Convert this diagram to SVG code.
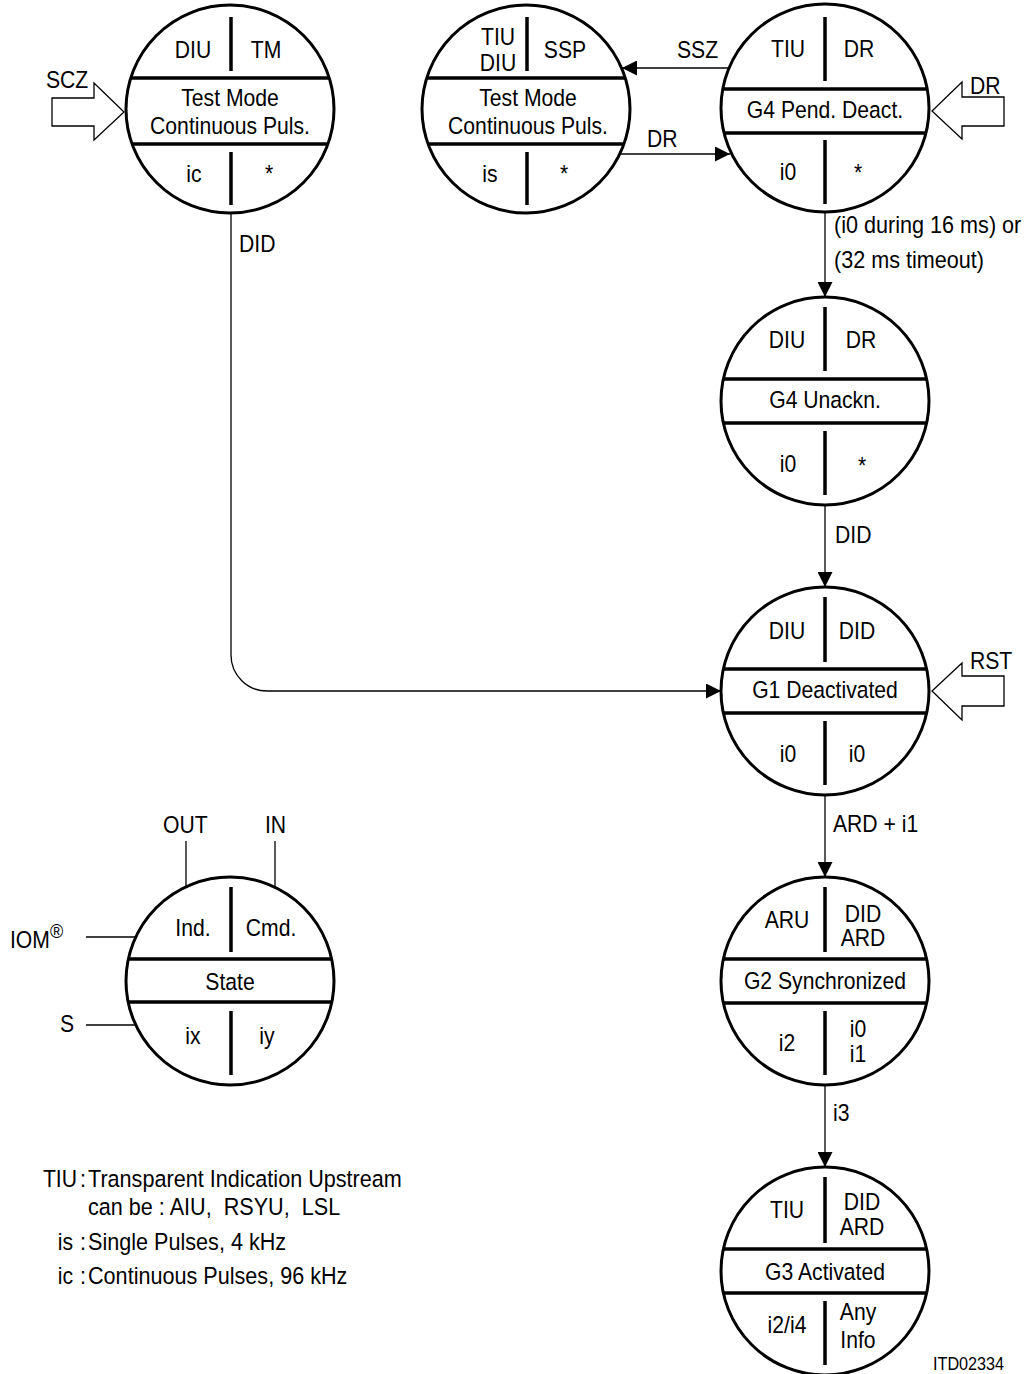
<svg xmlns="http://www.w3.org/2000/svg" width="1028" height="1374" viewBox="0 0 1028 1374">
<style>
.t{font-family:"Liberation Sans",Arial,Helvetica,sans-serif;font-size:23.5px;fill:#000}
.m{text-anchor:middle}
.e{text-anchor:end}
.s{font-size:18px}
.c{fill:#fff;stroke:#000;stroke-width:3}
.b{stroke:#000;stroke-width:3.5;fill:none}
.cn{fill:none;stroke:#000;stroke-width:1.3}
.h{fill:#fff;stroke:#000;stroke-width:1.3;stroke-linejoin:miter}
</style>
<defs>
<marker id="ah" markerWidth="15" markerHeight="15" refX="15" refY="7.5" orient="auto" markerUnits="userSpaceOnUse"><path d="M0,0 L15,7.5 L0,15 z" fill="#000"/></marker>
</defs>
<rect width="1028" height="1374" fill="#fff"/>

<g id="connectors">
<path class="cn" d="M729,68 H622" marker-end="url(#ah)"/>
<path class="cn" d="M620,154 H730" marker-end="url(#ah)"/>
<path class="cn" d="M825,212 V297" marker-end="url(#ah)"/>
<path class="cn" d="M825,505 V587" marker-end="url(#ah)"/>
<path class="cn" d="M825,795 V877" marker-end="url(#ah)"/>
<path class="cn" d="M825,1085 V1167" marker-end="url(#ah)"/>
<path class="cn" d="M231,213 V655 A36,36 0 0 0 267,691 H721" marker-end="url(#ah)"/>
<polygon class="h" points="52,98 94,98 94,83 124,112 94,140 94,126 52,126"/>
<polygon class="h" points="1004,97 962,97 962,82 932,111 962,139 962,126 1004,126"/>
<polygon class="h" points="1004,676 962,676 962,663 932,691 962,720 962,706 1004,706"/>
<text class="t" transform="translate(46,88) scale(0.9,1)">SCZ</text>
<text class="t" transform="translate(677,58) scale(0.9,1)">SSZ</text>
<text class="t" transform="translate(647,147) scale(0.9,1)">DR</text>
<text class="t" transform="translate(970,94) scale(0.9,1)">DR</text>
<text class="t" transform="translate(834,233) scale(0.92,1)">(i0 during 16 ms) or</text>
<text class="t" transform="translate(834,268) scale(0.92,1)">(32 ms timeout)</text>
<text class="t" transform="translate(835,543) scale(0.9,1)">DID</text>
<text class="t" transform="translate(239,252) scale(0.9,1)">DID</text>
<text class="t" transform="translate(970,669) scale(0.9,1)">RST</text>
<text class="t" transform="translate(833,832) scale(0.9,1)">ARD + i1</text>
<text class="t" transform="translate(833,1121) scale(0.9,1)">i3</text>
</g>

<g id="node-testmode-cont">
<circle class="c" cx="230" cy="109" r="104"/>
<line class="b" x1="130.7" y1="78" x2="329.3" y2="78"/>
<line class="b" x1="132.1" y1="144" x2="327.9" y2="144"/>
<line class="b" x1="231" y1="17" x2="231" y2="71"/>
<line class="b" x1="231" y1="152" x2="231" y2="205"/>
<text class="t m" transform="translate(193,58) scale(0.9,1)">DIU</text>
<text class="t m" transform="translate(266,58) scale(0.9,1)">TM</text>
<text class="t m" transform="translate(230,106) scale(0.9,1)">Test Mode</text>
<text class="t m" transform="translate(230,134) scale(0.9,1)">Continuous Puls.</text>
<text class="t m" transform="translate(194,182) scale(0.9,1)">ic</text>
<text class="t m" transform="translate(269,182) scale(0.9,1)">*</text>
</g>

<g id="node-testmode-single">
<circle class="c" cx="526" cy="109" r="104"/>
<line class="b" x1="426.7" y1="78" x2="625.3" y2="78"/>
<line class="b" x1="428.1" y1="144" x2="623.9" y2="144"/>
<line class="b" x1="527" y1="17" x2="527" y2="71"/>
<line class="b" x1="527" y1="152" x2="527" y2="205"/>
<text class="t m" transform="translate(498,45) scale(0.9,1)">TIU</text>
<text class="t m" transform="translate(498,71) scale(0.9,1)">DIU</text>
<text class="t m" transform="translate(565,58) scale(0.9,1)">SSP</text>
<text class="t m" transform="translate(528,106) scale(0.9,1)">Test Mode</text>
<text class="t m" transform="translate(528,134) scale(0.9,1)">Continuous Puls.</text>
<text class="t m" transform="translate(490,182) scale(0.9,1)">is</text>
<text class="t m" transform="translate(564,182) scale(0.9,1)">*</text>
</g>

<g id="node-g4-pend">
<circle class="c" cx="825" cy="108" r="104"/>
<line class="b" x1="722.8" y1="89" x2="927.2" y2="89"/>
<line class="b" x1="724" y1="133" x2="926" y2="133"/>
<line class="b" x1="825" y1="17" x2="825" y2="81"/>
<line class="b" x1="825" y1="140" x2="825" y2="204"/>
<text class="t m" transform="translate(788,57) scale(0.9,1)">TIU</text>
<text class="t m" transform="translate(859,57) scale(0.9,1)">DR</text>
<text class="t m" transform="translate(825,118) scale(0.9,1)">G4 Pend. Deact.</text>
<text class="t m" transform="translate(788,180) scale(0.9,1)">i0</text>
<text class="t m" transform="translate(858,181) scale(0.9,1)">*</text>
</g>

<g id="node-g4-unackn">
<circle class="c" cx="825" cy="401" r="104"/>
<line class="b" x1="723.4" y1="379" x2="926.6" y2="379"/>
<line class="b" x1="723.4" y1="423" x2="926.6" y2="423"/>
<line class="b" x1="825" y1="307" x2="825" y2="371"/>
<line class="b" x1="825" y1="431" x2="825" y2="495"/>
<text class="t m" transform="translate(787,348) scale(0.9,1)">DIU</text>
<text class="t m" transform="translate(861,348) scale(0.9,1)">DR</text>
<text class="t m" transform="translate(825,408) scale(0.9,1)">G4 Unackn.</text>
<text class="t m" transform="translate(788,472) scale(0.9,1)">i0</text>
<text class="t m" transform="translate(862,474) scale(0.9,1)">*</text>
</g>

<g id="node-g1">
<circle class="c" cx="825" cy="691" r="104"/>
<line class="b" x1="723.4" y1="669" x2="926.6" y2="669"/>
<line class="b" x1="723.4" y1="713" x2="926.6" y2="713"/>
<line class="b" x1="825" y1="597" x2="825" y2="662"/>
<line class="b" x1="825" y1="721" x2="825" y2="785"/>
<text class="t m" transform="translate(787,639) scale(0.9,1)">DIU</text>
<text class="t m" transform="translate(857,639) scale(0.9,1)">DID</text>
<text class="t m" transform="translate(825,698) scale(0.9,1)">G1 Deactivated</text>
<text class="t m" transform="translate(788,762) scale(0.9,1)">i0</text>
<text class="t m" transform="translate(857,762) scale(0.9,1)">i0</text>
</g>

<g id="node-g2">
<circle class="c" cx="825" cy="981" r="104"/>
<line class="b" x1="723.4" y1="959" x2="926.6" y2="959"/>
<line class="b" x1="723.4" y1="1003" x2="926.6" y2="1003"/>
<line class="b" x1="825" y1="887" x2="825" y2="952"/>
<line class="b" x1="825" y1="1011" x2="825" y2="1075"/>
<text class="t m" transform="translate(787,928) scale(0.9,1)">ARU</text>
<text class="t m" transform="translate(863,922) scale(0.9,1)">DID</text>
<text class="t m" transform="translate(863,946) scale(0.9,1)">ARD</text>
<text class="t m" transform="translate(825,989) scale(0.9,1)">G2 Synchronized</text>
<text class="t m" transform="translate(787,1051) scale(0.9,1)">i2</text>
<text class="t m" transform="translate(858,1037) scale(0.9,1)">i0</text>
<text class="t m" transform="translate(858,1062) scale(0.9,1)">i1</text>
</g>

<g id="node-g3">
<circle class="c" cx="825" cy="1271" r="104"/>
<line class="b" x1="723.4" y1="1249" x2="926.6" y2="1249"/>
<line class="b" x1="723.4" y1="1293" x2="926.6" y2="1293"/>
<line class="b" x1="825" y1="1177" x2="825" y2="1243"/>
<line class="b" x1="825" y1="1301" x2="825" y2="1365"/>
<text class="t m" transform="translate(787,1218) scale(0.9,1)">TIU</text>
<text class="t m" transform="translate(862,1210) scale(0.9,1)">DID</text>
<text class="t m" transform="translate(862,1235) scale(0.9,1)">ARD</text>
<text class="t m" transform="translate(825,1280) scale(0.9,1)">G3 Activated</text>
<text class="t m" transform="translate(787,1333) scale(0.9,1)">i2/i4</text>
<text class="t m" transform="translate(858,1320) scale(0.9,1)">Any</text>
<text class="t m" transform="translate(858,1348) scale(0.9,1)">Info</text>
</g>

<g id="legend-node">
<line class="cn" x1="186" y1="841" x2="186" y2="887"/>
<line class="cn" x1="275" y1="841" x2="275" y2="887"/>
<line class="cn" x1="86" y1="937" x2="136" y2="937"/>
<line class="cn" x1="86" y1="1025" x2="136" y2="1025"/>
<circle class="c" cx="230" cy="981" r="104"/>
<line class="b" x1="128.4" y1="959" x2="331.6" y2="959"/>
<line class="b" x1="128.1" y1="1002" x2="331.9" y2="1002"/>
<line class="b" x1="231" y1="887" x2="231" y2="952"/>
<line class="b" x1="231" y1="1011" x2="231" y2="1075"/>
<text class="t m" transform="translate(193,936) scale(0.9,1)">Ind.</text>
<text class="t m" transform="translate(271,936) scale(0.9,1)">Cmd.</text>
<text class="t m" transform="translate(230,990) scale(0.9,1)">State</text>
<text class="t m" transform="translate(193,1044) scale(0.9,1)">ix</text>
<text class="t m" transform="translate(267,1044) scale(0.9,1)">iy</text>
<text class="t" transform="translate(163,833) scale(0.9,1)">OUT</text>
<text class="t" transform="translate(265,833) scale(0.9,1)">IN</text>
<text class="t" transform="translate(10,948) scale(0.9,1)">IOM<tspan font-size="20" dy="-10">®</tspan></text>
<text class="t" transform="translate(60,1032) scale(0.9,1)">S</text>
</g>

<g id="legend-text">
<text class="t e" transform="translate(77,1187) scale(0.9,1)">TIU</text>
<text class="t" transform="translate(80,1187) scale(0.92,1)">:</text>
<text class="t" transform="translate(88,1187) scale(0.92,1)">Transparent Indication Upstream</text>
<text class="t" xml:space="preserve" transform="translate(88,1215) scale(0.92,1)">can be : AIU,  RSYU,  LSL</text>
<text class="t e" transform="translate(73,1250) scale(0.9,1)">is</text>
<text class="t" transform="translate(80,1250) scale(0.92,1)">:</text>
<text class="t" transform="translate(88,1250) scale(0.92,1)">Single Pulses, 4 kHz</text>
<text class="t e" transform="translate(73,1284) scale(0.9,1)">ic</text>
<text class="t" transform="translate(80,1284) scale(0.92,1)">:</text>
<text class="t" transform="translate(88,1284) scale(0.92,1)">Continuous Pulses, 96 kHz</text>
<text class="t s" transform="translate(933,1370) scale(0.9,1)">ITD02334</text>
</g>
</svg>
